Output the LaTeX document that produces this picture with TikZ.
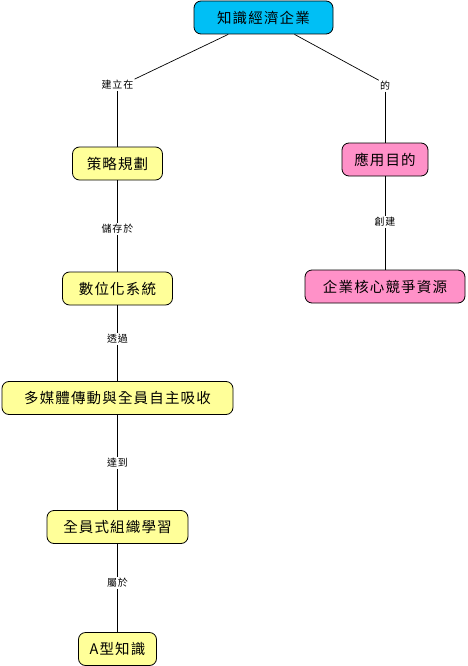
\documentclass[tikz,border=0pt]{standalone}
\usepackage{fontspec}
\newfontfamily\cjk[LetterSpace=8]{Noto Sans CJK TC}
\definecolor{rootc}{RGB}{0,191,245}
\definecolor{yel}{RGB}{255,255,153}
\definecolor{pnk}{RGB}{255,145,200}
\begin{document}
\begin{tikzpicture}[x=1pt,y=-1pt,
  box/.style={draw=black, line width=0.8pt, rounded corners=7pt, minimum height=33pt, inner xsep=6pt, font=\cjk\fontsize{14.5}{16}\selectfont},
  lbl/.style={inner sep=1pt, font=\cjk\fontsize{10}{11}\selectfont},
  ln/.style={line width=0.7pt}]
\useasboundingbox (0,0) rectangle (467,666);
\node[box, fill=rootc, minimum width=139pt] (root) at (263.5,17.5) {知識經濟企業};
\node[lbl] (l1) at (117.5,85) {建立在};
\node[lbl] (l2) at (385,86) {的};
\node[box, fill=yel, minimum width=90pt] (n1) at (117.5,163.5) {策略規劃};
\node[box, fill=pnk, minimum width=86pt] (p1) at (385,159.5) {應用目的};
\node[lbl] (l3) at (117.5,229) {儲存於};
\node[lbl] (l4) at (385,222) {創建};
\node[box, fill=yel, minimum width=110pt] (n2) at (117.5,288.5) {數位化系統};
\node[box, fill=pnk, minimum width=160pt] (p2) at (385,286.5) {企業核心競爭資源};
\node[lbl] (l5) at (117.5,339) {透過};
\node[box, fill=yel, minimum width=231pt] (n3) at (117.5,398) {多媒體傳動與全員自主吸收};
\node[lbl] (l6) at (117.5,463) {達到};
\node[box, fill=yel, minimum width=141pt] (n4) at (117.5,527) {全員式組織學習};
\node[lbl] (l7) at (117.5,583) {屬於};
\node[box, fill=yel, minimum width=78pt] (n5) at (117.5,649) {A型知識};
\draw[ln] (root) -- (l1.north east);
\draw[ln] (root) -- (l2.north west);
\draw[ln] (l1) -- (n1);
\draw[ln] (l2) -- (p1);
\draw[ln] (n1) -- (l3);
\draw[ln] (l3) -- (n2);
\draw[ln] (p1) -- (l4);
\draw[ln] (l4) -- (p2);
\draw[ln] (n2) -- (l5);
\draw[ln] (l5) -- (n3);
\draw[ln] (n3) -- (l6);
\draw[ln] (l6) -- (n4);
\draw[ln] (n4) -- (l7);
\draw[ln] (l7) -- (n5);
\end{tikzpicture}
\end{document}
